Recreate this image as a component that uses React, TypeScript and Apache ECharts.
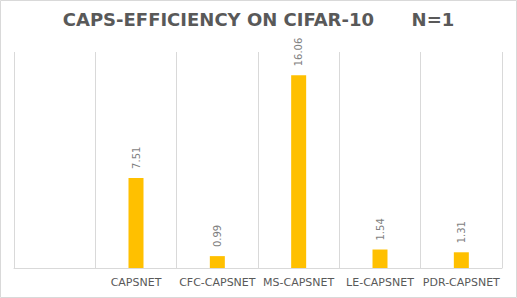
import React, { useEffect, useRef } from "react";
import * as echarts from "echarts";

const titleText = "CAPS-EFFICIENCY ON CIFAR-10      N=1";
const categories = ["", "CAPSNET", "CFC-CAPSNET", "MS-CAPSNET", "LE-CAPSNET", "PDR-CAPSNET"];
const values: (number | null)[] = [null, 7.51, 0.99, 16.06, 1.54, 1.31];
const valueMax = 18;

export default function App() {
  const ref = useRef<HTMLDivElement>(null);
  useEffect(() => {
    if (!ref.current) return;
    const chart = echarts.init(ref.current, undefined, { renderer: "svg" });
    chart.setOption({
      animation: false,
      backgroundColor: "#ffffff",
      title: {
        text: titleText,
        left: "center",
        top: 5,
        textStyle: {
          fontFamily: "DejaVu Sans",
          fontWeight: "bold",
          fontSize: 18,
          color: "#595959",
        },
      },
      graphic: [
        {
          type: "rect",
          shape: { x: 0.5, y: 0.5, width: 516, height: 297 },
          style: { fill: "none", stroke: "#d9d9d9", lineWidth: 1 },
          silent: true,
        },
      ],
      grid: { left: 14, right: 15, top: 52, bottom: 30 },
      xAxis: {
        type: "category",
        data: categories,
        boundaryGap: true,
        axisLine: { show: true, lineStyle: { color: "#d9d9d9", width: 1 } },
        axisTick: { show: false },
        splitLine: { show: true, lineStyle: { color: "#d9d9d9", width: 1 } },
        axisLabel: {
          interval: 0,
          margin: 9,
          fontFamily: "DejaVu Sans",
          fontSize: 11,
          color: "#595959",
        },
      },
      yAxis: {
        type: "value",
        min: 0,
        max: valueMax,
        show: false,
        splitLine: { show: false },
      },
      series: [
        {
          type: "bar",
          data: values,
          barWidth: 15,
          itemStyle: { color: "#FFC000" },
          label: {
            show: true,
            position: "top",
            rotate: 90,
            align: "left",
            verticalAlign: "middle",
            distance: 9,
            fontFamily: "DejaVu Sans",
            fontSize: 10,
            color: "#7f7f7f",
          },
        },
      ],
    });
    return () => chart.dispose();
  }, []);
  return (
    <div
      ref={ref}
      style={{ position: "absolute", left: 0, top: 0, width: 517, height: 298 }}
    />
  );
}
